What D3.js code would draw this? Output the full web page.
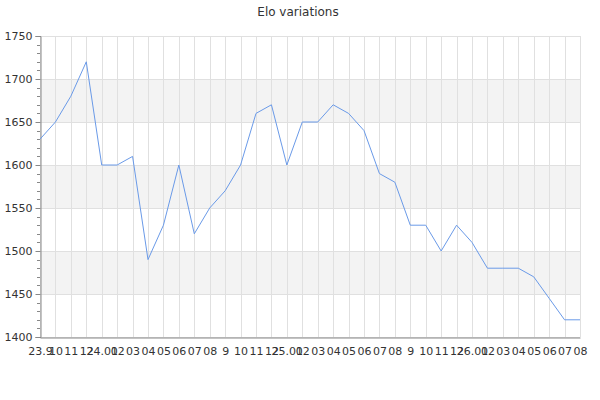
<!DOCTYPE html>
<html><head><meta charset="utf-8">
<script src="https://cdn.jsdelivr.net/npm/d3@7"></script>
<style>body{margin:0;background:#fff}svg{display:block;font-family:"DejaVu Sans",sans-serif}</style>
</head><body><svg id="c" width="600" height="400"></svg>
<script>
const title = "Elo variations";
const labels = ["23.9","10","11","12","24.01","02","03","04","05","06","07","08","9","10","11","12",
"25.01","02","03","04","05","06","07","08","9","10","11","12","26.01","02","03","04","05","06","07","08"];
const elo = [1630,1650,1680,1720,1600,1600,1610,1490,1530,1600,1520,1550,1570,1600,1660,1670,1600,
1650,1650,1670,1660,1640,1590,1580,1530,1530,1500,1530,1510,1480,1480,1480,1470,1445,1420,1420];
const yTicks = [1400,1450,1500,1550,1600,1650,1700,1750];

const FONT = "DejaVu Sans, sans-serif";
const svg = d3.select("#c");
const m = {l:40, r:20, t:36, b:63};
const W = 600, H = 400;
const x = d3.scalePoint().domain(d3.range(elo.length)).range([m.l, W - m.r]);
const y = d3.scaleLinear().domain([1400,1750]).range([H - m.b, m.t]);

// bands
const bands = d3.pairs(yTicks).filter((d,i)=> i%2===1);
svg.append("g").selectAll("rect").data(bands).join("rect")
  .attr("x", m.l).attr("width", W - m.r - m.l)
  .attr("y", d=>y(d[1])).attr("height", d=>y(d[0])-y(d[1]))
  .attr("fill","#f3f3f3");

// grid
svg.append("g").selectAll("line").data(yTicks).join("line")
  .attr("x1", m.l).attr("x2", W - m.r).attr("y1", d=>y(d)+0.5).attr("y2", d=>y(d)+0.5)
  .attr("stroke","#e0e0e0");
svg.append("g").selectAll("line").data(d3.range(elo.length)).join("line")
  .attr("x1", d=>Math.round(x(d))+0.5).attr("x2", d=>Math.round(x(d))+0.5)
  .attr("y1", m.t).attr("y2", H - m.b)
  .attr("stroke","#e0e0e0");

// y axis minor ticks
const minor = d3.range(1400,1751,10).filter(v=>v%50!==0);
svg.append("g").selectAll("line").data(minor).join("line")
  .attr("x1", m.l-3).attr("x2", m.l).attr("y1", d=>Math.round(y(d))+0.5).attr("y2", d=>Math.round(y(d))+0.5)
  .attr("stroke","#888");

const ya = svg.append("g").attr("transform",`translate(${m.l+0.5},0)`)
  .call(d3.axisLeft(y).tickValues(yTicks).tickSize(5).tickPadding(3).tickFormat(d3.format("d")))
  .attr("font-family", FONT).attr("font-size", 11);
ya.select(".domain").attr("stroke","#888");
ya.selectAll(".tick line").attr("stroke","#888");
ya.selectAll("text").attr("fill","#333");

const xa = svg.append("g").attr("transform",`translate(0,${H-m.b+0.5})`)
  .call(d3.axisBottom(x).tickSize(0).tickPadding(10).tickFormat(i=>labels[i]))
  .attr("font-family", FONT).attr("font-size", 11);
xa.select(".domain").attr("stroke","#888");
xa.selectAll("text").attr("fill","#333");

// line
svg.append("path").datum(elo)
  .attr("fill","none").attr("stroke","#6a9ae8").attr("stroke-width",1)
  .attr("d", d3.line().x((d,i)=>x(i)).y(d=>y(d)));

svg.append("text").attr("x",298).attr("y",16).attr("text-anchor","middle")
  .attr("fill","#333").attr("font-family", FONT).style("font-size","12px").text(title);
</script></body></html>
